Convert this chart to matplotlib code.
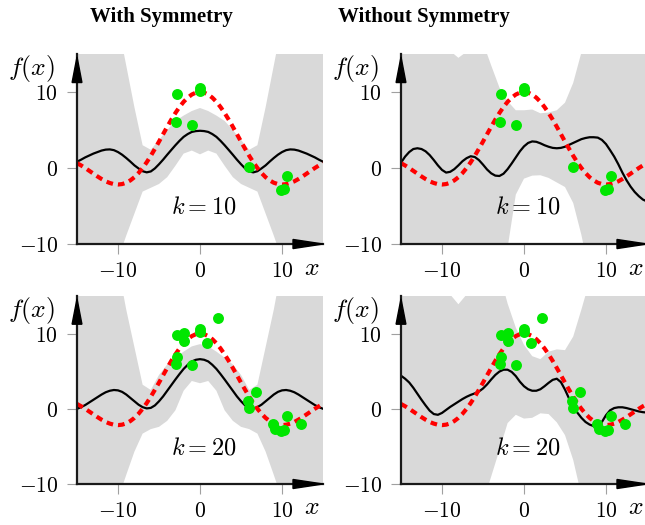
import numpy as np
import matplotlib
matplotlib.use("Agg")
import matplotlib.pyplot as plt
from matplotlib.patches import Polygon

plt.rcParams['mathtext.fontset'] = 'cm'

# sample positions along x: half steps for the curves, whole steps for the bands
xs = np.arange(-15, 15.5, 0.5)
xb = np.arange(-15, 16)

# true function (red dashed)
f_true = [0.64, 0.34, 0, -0.37, -0.74, -1.11, -1.45, -1.75, -1.97, -2.12, -2.17, -2.11, -1.94, -1.63,
          -1.21, -0.66, 0, 0.76, 1.61, 2.53, 3.48, 4.46, 5.43, 6.37, 7.24, 8.03, 8.71, 9.26, 9.67, 9.92,
          10,
          9.92, 9.67, 9.26, 8.71, 8.03, 7.24, 6.37, 5.43, 4.46, 3.48, 2.53, 1.61, 0.76, 0, -0.66,
          -1.21, -1.63, -1.94, -2.11, -2.17, -2.12, -1.97, -1.75, -1.45, -1.11, -0.74, -0.37, 0, 0.34, 0.64]

# with symmetry, k = 10
sym10_mean = [0.83, 1.1, 1.4, 1.65, 1.9, 2.1, 2.3, 2.42, 2.45, 2.35, 2.1, 1.75, 1.32, 0.85, 0.35,
              -0.05, -0.42, -0.57, -0.45, -0.05, 0.5, 1.1, 1.75, 2.38, 3.0, 3.58, 4.1, 4.47, 4.75, 4.86,
              4.9,
              4.86, 4.75, 4.47, 4.1, 3.58, 3.0, 2.38, 1.75, 1.1, 0.5, -0.05, -0.45, -0.57, -0.42, -0.05,
              0.35, 0.85, 1.32, 1.75, 2.1, 2.35, 2.45, 2.42, 2.3, 2.1, 1.9, 1.65, 1.4, 1.1, 0.83]
sym10_up = [45, 40, 35, 30, 25, 19, 13.5, 8.0, 3.0, 2.4, 3.7, 5.0, 6.2, 6.9, 7.5,
            7.9, 7.5, 6.9, 6.2, 5.0, 3.7, 2.4, 3.0, 8.0, 13.5, 19, 25, 30, 35, 40, 45]
sym10_lo = [-35, -30, -25, -20, -16, -12, -8.9, -6.0, -3.1, -2.6, -2.1, -1.2, 0.3, 1.9, 2.3,
            1.8, 2.3, 1.9, 0.3, -1.2, -2.1, -2.6, -3.1, -6.0, -8.9, -12, -16, -20, -25, -30, -35]

# with symmetry, k = 20
sym20_mean = [0.0, 0.22, 0.5, 0.85, 1.2, 1.55, 1.9, 2.2, 2.4, 2.5, 2.45, 2.25, 1.9, 1.45, 1.0,
              0.55, 0.22, 0.05, 0.12, 0.45, 1.0, 1.65, 2.4, 3.15, 3.9, 4.62, 5.3, 5.85, 6.3, 6.52,
              6.6,
              6.52, 6.3, 5.85, 5.3, 4.62, 3.9, 3.15, 2.4, 1.65, 1.0, 0.45, 0.12, 0.05, 0.22, 0.55,
              1.0, 1.45, 1.9, 2.25, 2.45, 2.5, 2.4, 2.2, 1.9, 1.55, 1.2, 0.85, 0.5, 0.22, 0.0]
sym20_up = [45, 40, 35, 30, 25, 19, 13.2, 8.2, 3.2, 2.5, 4.5, 5.9, 6.8, 7.6, 8.3,
            8.6, 8.3, 7.6, 6.8, 5.9, 4.5, 2.5, 3.2, 8.2, 13.2, 19, 25, 30, 35, 40, 45]
sym20_lo = [-32, -28, -24, -20, -16, -12, -8.8, -5.7, -3.3, -2.7, -2.4, -1.6, -0.2, 2.4, 3.7,
            3.4, 3.7, 2.4, -0.2, -1.6, -2.4, -2.7, -3.3, -5.7, -8.8, -12, -16, -20, -24, -28, -32]

# without symmetry, k = 10
nos10_mean = [0.7, 1.5, 2.1, 2.5, 2.6, 2.5, 2.2, 1.7, 1.05, 0.35, -0.25, -0.6, -0.5, -0.15, 0.35,
              0.9, 1.3, 1.55, 1.45, 1.05, 0.45, -0.2, -0.7, -1.0, -1.05, -0.75, -0.15, 0.6, 1.4, 2.2,
              2.85,
              3.3, 3.5, 3.45, 3.25, 3.0, 2.8, 2.65, 2.6, 2.65, 2.8, 3.05, 3.3, 3.55, 3.8, 3.95,
              4.05, 4.05, 4.0, 3.7, 3.15, 2.35, 1.5, 0.5, -0.6, -1.6, -2.45, -3.15, -3.7, -4.15, -4.4]
nos10_up = [30, 26, 22, 19, 17, 16, 15.4, 14.5, 15.3, 17, 16.5, 13.5, 10.6, 8.8, 7.6,
            7.6, 7.7, 7.2, 7.3, 7.6, 8.6, 11.2, 15.2, 19, 23, 27, 31, 35, 39, 43, 47]
nos10_lo = [-45, -43, -41, -39, -37, -35, -33, -31, -29, -27, -24, -20.5, -16, -10.5, -3.5,
            -1.4, -1.0, -0.95, -1.3, -1.9, -2.5, -4.6, -8.8, -14, -19, -24, -28, -32, -36, -40, -44]

# without symmetry, k = 20
nos20_mean = [4.4, 4.0, 3.5, 2.8, 2.0, 1.2, 0.45, -0.25, -0.7, -0.8, -0.55, -0.15, 0.25, 0.6, 0.95,
              1.3, 1.6, 1.85, 2.05, 2.3, 2.7, 3.25, 3.9, 4.5, 4.95, 5.2, 5.2, 4.9, 4.35, 3.6,
              3.0,
              2.6, 2.4, 2.4, 2.6, 3.0, 3.45, 3.85, 4.0, 3.55, 2.55, 1.35, 0.35, -0.5, -1.2, -1.75,
              -2.1, -2.3, -2.25, -1.75, -0.85, -0.2, 0.1, 0.2, 0.2, 0.1, -0.05, -0.2, -0.35, -0.45, -0.5]
nos20_up = [30, 26, 22, 19, 17, 16, 15.2, 13.9, 15.2, 19, 22, 21, 18, 14.0, 10.8,
            8.5, 7.0, 6.6, 7.6, 7.9, 7.8, 9.6, 13.2, 17, 21, 25, 29, 33, 37, 41, 45]
nos20_lo = [-45, -42, -39, -36, -33, -30, -27, -24, -21, -16.5, -12.5, -9.0, -5.5, -1.9, -0.8,
            -1.3, -1.2, -0.6, -0.7, -1.8, -3.5, -6.8, -11.5, -16, -21, -26, -30, -34, -38, -42, -46]

# observations
obs10_x = [-2.8, 0.05, 0.0, -2.9, -1.0, 6.0, 10.65, 9.9, 10.2]
obs10_y = [9.8, 10.5, 10.1, 6.0, 5.7, 0.1, -1.0, -2.9, -2.8]
obs20_x = [-2.8, -2.0, -2.0, 0.0, 0.05, 0.9, 2.15, -2.8, -2.9, -1.0, 6.8, 5.85, 6.0,
           8.9, 9.2, 9.9, 10.2, 10.65, 12.3]
obs20_y = [9.8, 10.1, 9.0, 10.2, 10.6, 8.8, 12.1, 6.9, 6.0, 5.8, 2.2, 1.0, 0.1,
           -2.0, -2.7, -2.9, -2.8, -0.9, -2.0]

ticks = [-10, 0, 10]
tick_labels = [r'$-10$', r'$0$', r'$10$']
titles = ['With Symmetry', 'Without Symmetry']

fig = plt.figure(figsize=(6.45, 5.25), dpi=100)

panels = [
    ([0.1194, 0.5352, 0.3814, 0.3619], sym10_mean, sym10_up, sym10_lo, obs10_x, obs10_y, r'$k=10$'),
    ([0.6217, 0.5352, 0.3814, 0.3619], nos10_mean, nos10_up, nos10_lo, obs10_x, obs10_y, r'$k=10$'),
    ([0.1194, 0.0781, 0.3814, 0.3581], sym20_mean, sym20_up, sym20_lo, obs20_x, obs20_y, r'$k=20$'),
    ([0.6217, 0.0781, 0.3814, 0.3581], nos20_mean, nos20_up, nos20_lo, obs20_x, obs20_y, r'$k=20$'),
]

for rect, mean, up, lo, ox, oy, lab in panels:
    ax = fig.add_axes(rect)
    ax.fill_between(xb, lo, up, color='#d9d9d9', lw=0, zorder=1)
    ax.plot(xs, mean, color='black', lw=1.6, zorder=3)
    ax.plot(xs, f_true, color='#ff0000', lw=3, dashes=(1.6, 1.2), zorder=4)
    ax.scatter(ox, oy, s=62, color='#00e600', zorder=5, lw=0)
    ax.text(0.5, -5.1, lab, ha='center', va='center', fontsize=17.5)

    ax.set_xlim(-15, 15)
    ax.set_ylim(-10, 15)
    ax.set_xticks(ticks)
    ax.set_xticklabels(tick_labels)
    ax.set_yticks(ticks)
    ax.set_yticklabels(tick_labels)
    ax.tick_params(direction='out', length=7.5, width=0.8, color='#a0a0a0',
                   labelsize=15.5, pad=5)
    ax.tick_params(axis='y', pad=6)
    for s in ['top', 'right']:
        ax.spines[s].set_visible(False)
    for s in ['left', 'bottom']:
        ax.spines[s].set_linewidth(1.6)
        ax.spines[s].set_color('#1a1a1a')
        ax.spines[s].set_zorder(6)

    # arrow heads on the axes
    ax.add_patch(Polygon([[0, 0.985], [-0.02, 0.85], [0.02, 0.85]], closed=True,
                         transform=ax.transAxes, color='black', clip_on=False, zorder=7))
    ax.add_patch(Polygon([[1.0, 0], [0.878, -0.024], [0.878, 0.024]], closed=True,
                         transform=ax.transAxes, color='black', clip_on=False, zorder=7))

    ax.text(-0.185, 0.925, r'$f(x)$', transform=ax.transAxes, ha='center', va='center',
            fontsize=18.5)
    ax.text(0.955, -0.125, r'$x$', transform=ax.transAxes, ha='center', va='center',
            fontsize=18.5)

fig.text(0.251, 0.958, titles[0], ha='center', va='baseline', fontsize=15,
         fontweight='bold', family='Liberation Serif')
fig.text(0.657, 0.958, titles[1], ha='center', va='baseline', fontsize=15,
         fontweight='bold', family='Liberation Serif')

fig.savefig('out.png', dpi=100)
